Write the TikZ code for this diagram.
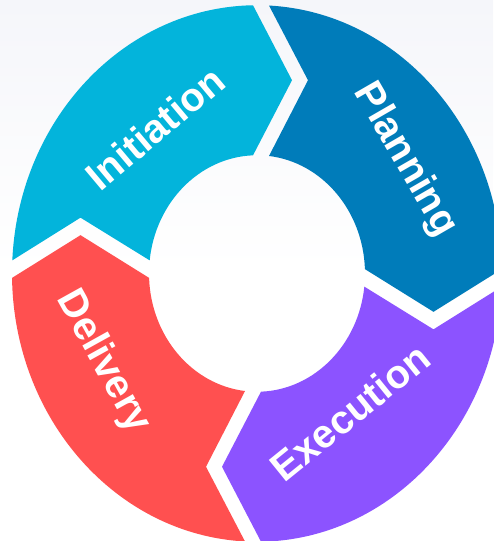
\documentclass[tikz,border=0pt]{standalone}
\usepackage{fontspec}
\setmainfont{Liberation Sans}
\definecolor{initc}{RGB}{3,180,219}
\definecolor{planc}{RGB}{0,124,186}
\definecolor{execc}{RGB}{140,83,255}
\definecolor{delc}{RGB}{255,80,80}
\definecolor{bgtop}{RGB}{245,246,250}
\newcommand{\ringseg}[2]{%
  \fill[#1, rotate=#2] (177.19:245) arc[start angle=177.19, end angle=90.94, radius=245]
    -- (35,176.5) -- (92.12:108) arc[start angle=92.12, end angle=173.62, radius=108]
    -- (-176.5,51) -- cycle;}
\tikzset{
  lbl/.style={text=white, font=\bfseries\fontsize{40}{40}\selectfont, inner sep=0pt}
}
\begin{document}
\begin{tikzpicture}[x=1pt,y=1pt]
\useasboundingbox (0,0) rectangle (493,541);
\shade[top color=bgtop, bottom color=white, middle color=white] (0,0) rectangle (493,541);
\begin{scope}[shift={(257,267.5)}, yscale=1.095]
  \ringseg{initc}{0}
  \ringseg{planc}{-90}
  \ringseg{execc}{-180}
  \ringseg{delc}{-270}
\end{scope}
\node[lbl, rotate=40] (init) at (155,413) {Initiation};
\node[lbl, rotate=-60] (plan) at (405,381) {Planning};
\node[lbl, rotate=39] (exec) at (350,129) {Execution};
\node[lbl, rotate=-61] (deliv) at (103,179) {Delivery};
\end{tikzpicture}
\end{document}
